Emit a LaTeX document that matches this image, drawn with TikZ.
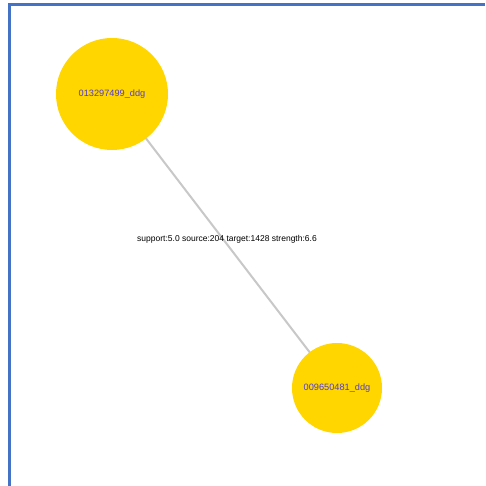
\documentclass[tikz,border=0pt]{standalone}
\usepackage{fontspec}
\setmainfont{Liberation Sans}
\definecolor{frameblue}{RGB}{68,114,196}
\definecolor{nodegold}{RGB}{255,214,0}
\definecolor{labelblue}{RGB}{80,60,210}
\definecolor{edgegrey}{RGB}{200,200,200}
\begin{document}
\begin{tikzpicture}[x=1pt,y=-1pt,
  gnode/.style={circle,fill=nodegold,draw=none,inner sep=0pt,text=labelblue,font=\fontsize{9.2}{10}\selectfont},
  glink/.style={draw=edgegrey,line width=2pt},
  glabel/.style={font=\fontsize{8.5}{9}\selectfont,text=black,inner sep=0pt}]
\useasboundingbox (0,0) rectangle (485,486);
\fill[white] (0,0) rectangle (485,486);
% frame along top and left edges
\draw[frameblue,line width=3.5pt] (9.5,486) -- (9.5,4.5) -- (485,4.5);
% link drawn first so the nodes cover its ends
\coordinate (ca) at (112,94);
\coordinate (cb) at (337,388);
\draw[glink] (ca) -- (cb);
\node[gnode,minimum size=112pt] (a) at (ca) {\raisebox{2pt}{013297499\_ddg}};
\node[gnode,minimum size=90pt] (b) at (cb) {\raisebox{1pt}{009650481\_ddg}};
\node[glabel] (l) at (227,239) {support:5.0 source:204 target:1428 strength:6.6};
\end{tikzpicture}
\end{document}
